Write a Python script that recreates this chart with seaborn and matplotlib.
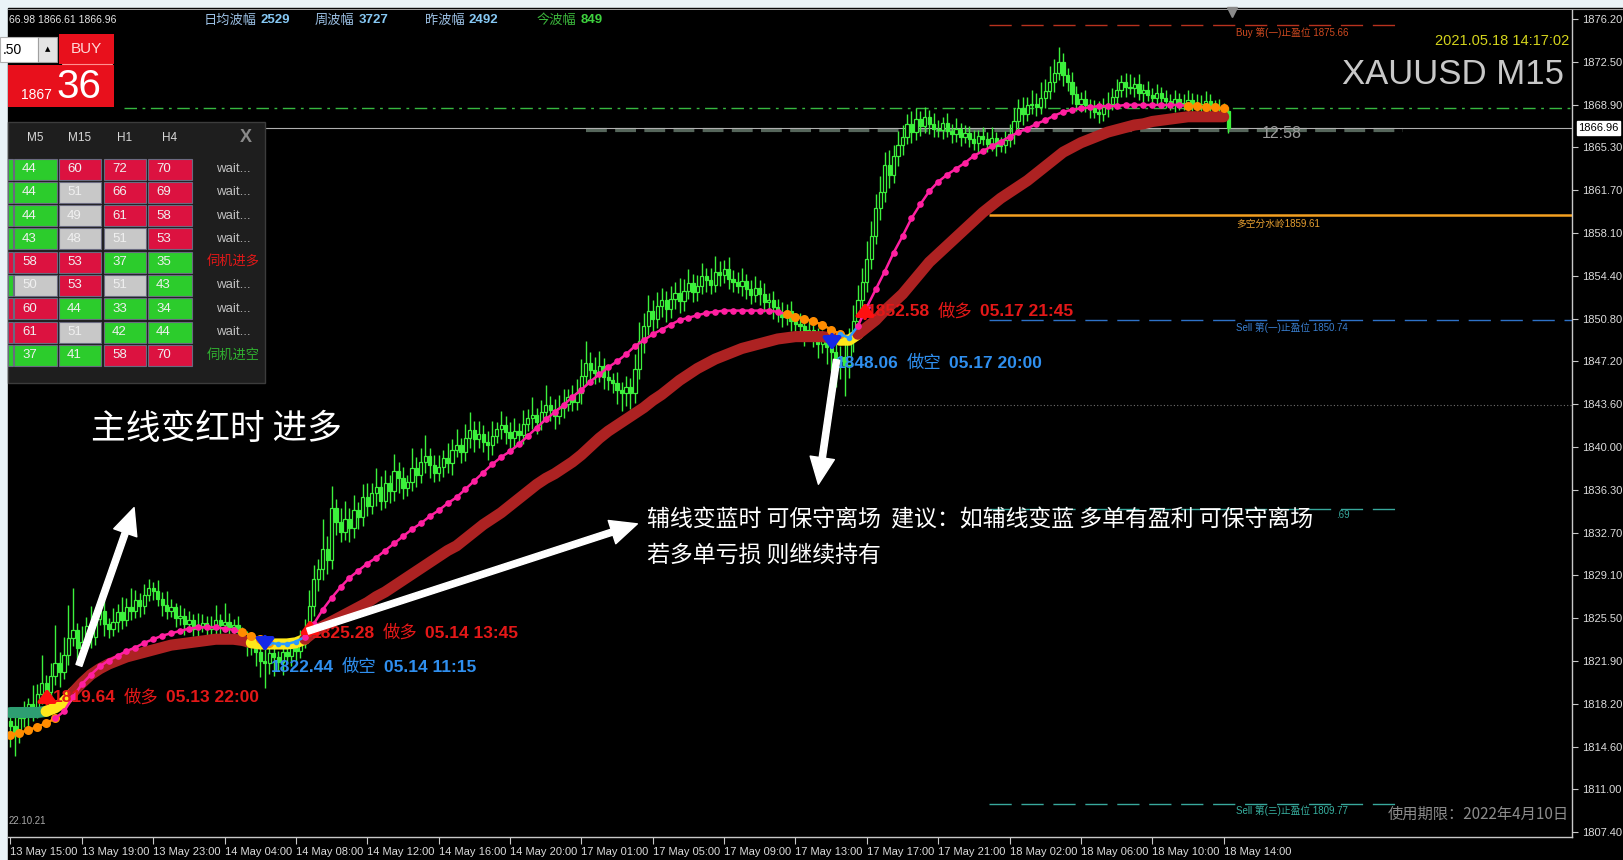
import numpy as np
import pandas as pd
import seaborn as sns
import matplotlib.pyplot as plt
from matplotlib.patches import Rectangle
from matplotlib.transforms import blended_transform_factory

# ---------------- values ----------------
time_labels = ["13 May 15:00", "13 May 19:00", "13 May 23:00", "14 May 04:00",
               "14 May 08:00", "14 May 12:00", "14 May 16:00", "14 May 20:00",
               "17 May 01:00", "17 May 05:00", "17 May 09:00", "17 May 13:00",
               "17 May 17:00", "17 May 21:00", "18 May 02:00", "18 May 06:00",
               "18 May 10:00", "18 May 14:00"]
price_ticks = [1876.20, 1872.50, 1868.90, 1865.30, 1861.70, 1858.10, 1854.40,
               1850.80, 1847.20, 1843.60, 1840.00, 1836.30, 1832.70, 1829.10,
               1825.50, 1821.90, 1818.20, 1814.60, 1811.00, 1807.40]
bid_price = 1866.96

# M15 candles (one row = 16 bars = one time label step)
first_open = 1816.8
closes = [
    1816.4, 1815.8, 1817.0, 1817.3, 1818.2, 1817.6, 1819.1, 1820.0, 1819.2, 1820.6, 1821.7, 1820.9, 1822.4, 1823.8, 1824.5, 1823.0,
    1823.5, 1824.8, 1823.9, 1825.4, 1826.1, 1825.0, 1824.6, 1825.2, 1826.0, 1825.3, 1826.4, 1826.1, 1827.0, 1826.5, 1827.4, 1828.0,
    1827.8, 1827.1, 1826.6, 1826.1, 1826.4, 1825.5, 1825.7, 1825.0, 1825.3, 1824.6, 1824.8, 1825.1, 1824.6, 1824.8, 1825.3, 1824.9,
    1825.2, 1824.7, 1824.9, 1824.3, 1823.8, 1823.1, 1823.4, 1822.6, 1821.9, 1821.7, 1822.5, 1822.2, 1821.8, 1822.6, 1822.3, 1823.0,
    1822.7, 1823.9, 1824.4, 1826.5, 1828.8, 1829.6, 1831.3, 1830.4, 1834.8, 1833.6, 1832.8, 1833.9, 1833.1, 1834.6, 1834.0, 1835.7,
    1835.0, 1836.1, 1836.6, 1835.4, 1836.9, 1836.2, 1837.9, 1837.3, 1836.5, 1837.0, 1838.2, 1837.6, 1838.7, 1839.2, 1838.4, 1837.8,
    1838.3, 1839.0, 1838.6, 1839.7, 1840.1, 1839.5, 1840.7, 1841.4, 1840.6, 1841.1, 1840.4, 1840.1, 1840.9, 1841.5, 1841.8, 1841.2,
    1840.7, 1841.3, 1841.0, 1841.9, 1842.4, 1842.7, 1842.1, 1842.9, 1843.5, 1843.1, 1842.6, 1843.3, 1843.6, 1844.2, 1843.8, 1844.5,
    1846.0, 1847.1, 1846.5, 1846.2, 1846.8, 1845.9, 1845.6, 1845.4, 1844.8, 1844.5, 1845.0, 1844.5, 1846.6, 1848.9, 1850.2, 1851.5,
    1850.8, 1851.9, 1852.4, 1851.6, 1852.5, 1853.0, 1852.3, 1853.2, 1853.8, 1853.1, 1853.6, 1854.4, 1854.1, 1853.7, 1854.8, 1854.5,
    1855.0, 1854.2, 1853.9, 1853.6, 1854.0, 1853.3, 1852.8, 1853.4, 1852.9, 1852.2, 1852.4, 1851.8, 1851.3, 1851.0, 1851.5, 1850.6,
    1850.4, 1850.2, 1849.6, 1849.9, 1849.3, 1848.7, 1849.0, 1848.4, 1848.0, 1847.2, 1847.6, 1846.9, 1848.9, 1850.6, 1852.4, 1853.9,
    1855.9, 1857.8, 1860.2, 1861.5, 1863.8, 1863.0, 1864.6, 1865.5, 1866.2, 1867.3, 1866.6, 1867.7, 1867.1, 1867.9, 1867.3, 1866.9,
    1866.8, 1867.4, 1866.7, 1866.4, 1866.9, 1866.2, 1866.5, 1866.0, 1865.7, 1866.3, 1866.0, 1865.6, 1866.1, 1865.4, 1865.5, 1865.9,
    1866.4, 1867.5, 1868.6, 1868.1, 1868.9, 1869.0, 1868.7, 1869.5, 1870.1, 1870.8, 1871.6, 1872.5, 1871.4, 1870.8, 1869.8, 1869.0,
    1869.4, 1868.9, 1868.6, 1868.3, 1868.1, 1868.7, 1869.0, 1869.6, 1870.2, 1870.8, 1870.4, 1870.3, 1870.7, 1869.9, 1870.2, 1869.7,
    1869.5, 1869.9, 1869.5, 1869.2, 1869.0, 1869.4, 1869.1, 1869.0, 1869.3, 1869.0, 1868.8, 1869.0, 1869.2, 1868.8, 1868.6, 1868.7,
    1868.4, 1866.96]
upper_wick = [
    0.6, 0.9, 0.4, 1.2, 0.5, 1.6, 0.8, 2.4, 0.7, 1.1, 3.2, 0.9, 1.5, 2.8, 3.5, 0.6,
    1.3, 0.8, 1.7, 0.6, 1.4, 0.9, 0.5, 1.1, 0.7, 1.3, 0.8, 1.6, 0.9, 0.6, 1.0, 0.8,
    0.5, 0.9, 0.6, 1.2, 0.7, 0.4, 0.9, 0.6, 0.8, 0.5, 1.1, 0.7, 0.6, 0.9, 1.3, 0.5,
    1.6, 0.7, 0.5, 0.8, 0.4, 0.6, 0.9, 0.5, 0.7, 1.1, 0.6, 0.8, 0.5, 0.9, 0.6, 0.7,
    0.8, 0.6, 1.0, 1.4, 1.2, 0.9, 2.6, 1.1, 1.9, 0.8, 1.2, 1.5, 0.9, 1.3, 0.7, 1.1,
    1.2, 0.8, 1.6, 0.9, 1.1, 0.7, 1.5, 0.8, 1.0, 0.6, 1.7, 0.9, 1.2, 1.8, 0.7, 0.9,
    1.0, 0.7, 1.3, 0.9, 1.4, 0.6, 1.2, 1.5, 0.8, 1.1, 0.7, 0.9, 1.3, 0.6, 1.2, 0.8,
    0.9, 1.1, 0.7, 1.2, 0.8, 1.5, 0.6, 1.0, 1.7, 0.8, 0.9, 1.1, 1.3, 0.7, 1.0, 1.2,
    1.4, 1.8, 0.9, 1.1, 1.3, 0.7, 0.8, 0.6, 0.9, 0.7, 1.0, 0.8, 1.2, 1.6, 1.1, 1.3,
    0.9, 1.2, 1.0, 0.8, 1.1, 0.9, 1.3, 1.0, 1.2, 0.8, 0.9, 1.1, 0.7, 1.0, 1.3, 0.9,
    0.8, 1.0, 0.7, 0.9, 1.1, 0.6, 0.8, 1.0, 0.7, 0.9, 0.6, 0.8, 0.7, 0.9, 0.6, 0.8,
    0.7, 0.9, 0.6, 0.8, 1.0, 0.7, 0.9, 0.6, 0.8, 0.7, 0.9, 1.2, 1.1, 1.4, 1.3, 1.2,
    1.5, 1.3, 1.2, 1.4, 1.1, 1.3, 0.9, 1.2, 1.0, 0.8, 1.1, 0.9, 0.7, 0.8, 0.6, 0.9,
    0.7, 0.5, 0.8, 0.6, 0.9, 0.5, 0.7, 0.6, 0.8, 0.5, 0.7, 0.6, 0.9, 0.5, 0.7, 0.8,
    0.9, 1.1, 0.8, 1.0, 0.7, 1.2, 0.9, 1.3, 1.0, 1.4, 1.2, 1.3, 0.8, 0.6, 0.9, 0.7,
    0.6, 0.8, 0.5, 0.7, 0.9, 0.8, 1.0, 0.7, 0.9, 0.6, 0.8, 1.1, 0.6, 0.8, 0.5, 0.7,
    0.6, 0.8, 0.5, 0.7, 0.6, 0.8, 0.5, 0.7, 0.9, 0.6, 0.8, 0.7, 0.9, 0.6, 0.5, 0.7,
    0.4, 0.3]
lower_wick = [
    1.8, 2.0, 0.9, 0.7, 1.1, 0.8, 0.6, 0.9, 1.0, 0.7, 0.8, 1.2, 0.6, 0.9, 0.7, 1.0,
    0.8, 0.6, 0.9, 0.7, 0.5, 1.0, 0.8, 0.6, 0.9, 0.7, 0.5, 0.8, 0.6, 0.9, 0.7, 0.5,
    0.8, 0.6, 0.9, 0.7, 0.5, 0.8, 0.6, 0.9, 0.7, 0.6, 0.8, 0.5, 0.9, 0.6, 0.7, 0.8,
    0.6, 0.8, 0.7, 0.9, 0.6, 0.8, 0.7, 1.2, 1.4, 2.1, 0.9, 1.6, 0.8, 1.1, 0.7, 0.9,
    0.8, 0.6, 0.9, 0.7, 0.8, 1.0, 0.9, 1.2, 0.8, 1.1, 0.9, 0.7, 1.2, 0.8, 1.0, 0.7,
    0.9, 0.7, 1.1, 0.8, 0.6, 1.0, 0.8, 1.2, 0.9, 0.7, 0.8, 1.0, 0.7, 0.9, 1.1, 0.8,
    0.7, 0.9, 0.8, 1.0, 0.6, 0.9, 0.7, 0.8, 1.1, 0.7, 0.9, 1.2, 0.8, 0.6, 0.9, 1.0,
    1.1, 0.7, 0.9, 0.8, 0.6, 0.9, 1.0, 0.7, 0.8, 0.9, 1.1, 0.7, 0.9, 0.6, 0.8, 0.7,
    0.9, 0.8, 1.1, 0.9, 0.7, 1.0, 0.8, 0.9, 1.2, 1.5, 1.1, 1.3, 0.8, 0.9, 1.0, 0.8,
    1.0, 0.8, 0.9, 1.1, 0.7, 0.9, 1.0, 0.8, 0.7, 0.9, 0.8, 0.7, 1.0, 0.8, 0.6, 0.9,
    0.7, 0.9, 0.8, 0.6, 0.9, 0.8, 0.7, 0.6, 0.9, 0.8, 0.7, 1.0, 0.8, 0.9, 0.7, 0.8,
    0.9, 0.8, 1.1, 0.7, 0.9, 1.2, 0.8, 1.4, 1.6, 2.2, 1.5, 2.6, 1.1, 0.9, 0.8, 0.7,
    0.8, 0.9, 0.7, 1.0, 0.8, 1.1, 0.7, 0.9, 0.8, 0.6, 0.9, 0.7, 0.8, 0.6, 0.9, 0.7,
    0.6, 0.8, 0.5, 0.7, 0.6, 0.8, 0.5, 0.7, 0.6, 0.8, 0.5, 0.7, 0.6, 0.8, 0.5, 0.7,
    0.6, 0.8, 0.7, 0.9, 0.6, 0.8, 0.7, 0.6, 0.9, 0.7, 0.8, 0.6, 0.9, 0.7, 0.8, 0.6,
    0.7, 0.6, 0.8, 0.5, 0.7, 0.6, 0.8, 0.5, 0.7, 0.6, 0.8, 0.5, 0.7, 0.6, 0.8, 0.5,
    0.6, 0.5, 0.7, 0.6, 0.5, 0.7, 0.6, 0.5, 0.7, 0.6, 0.5, 0.7, 0.6, 0.5, 0.6, 0.7,
    0.5, 0.4]

# indicator lines, one value every 2 bars
aux_line = [
    1815.6, 1815.8, 1816.0, 1816.3, 1816.6, 1817.0, 1817.6, 1818.8,
    1819.9, 1820.7, 1821.4, 1821.9, 1822.3, 1822.7, 1823.0, 1823.4,
    1823.7, 1824.0, 1824.2, 1824.4, 1824.6, 1824.7, 1824.7, 1824.7,
    1824.6, 1824.5, 1824.3, 1824.0, 1823.7, 1823.4, 1823.3, 1823.3,
    1823.5, 1823.9, 1825.0, 1826.2, 1827.2, 1828.1, 1828.9, 1829.5,
    1830.1, 1830.6, 1831.2, 1831.8, 1832.4, 1833.0, 1833.5, 1834.1,
    1834.6, 1835.2, 1835.7, 1836.4, 1837.1, 1837.8, 1838.5, 1839.1,
    1839.6, 1840.2, 1840.9, 1841.6, 1842.3, 1842.9, 1843.5, 1844.2,
    1844.8, 1845.5, 1846.1, 1846.7, 1847.2, 1847.8, 1848.5, 1849.0,
    1849.5, 1849.9, 1850.3, 1850.7, 1850.9, 1851.1, 1851.3, 1851.4,
    1851.5, 1851.5, 1851.5, 1851.5, 1851.5, 1851.5, 1851.4, 1851.2,
    1851.0, 1850.8, 1850.6, 1850.3, 1849.9, 1849.5, 1849.2, 1850.2,
    1851.8, 1853.3, 1854.8, 1856.4, 1857.8, 1859.3, 1860.5, 1861.6,
    1862.4, 1863.0, 1863.5, 1864.0, 1864.6, 1865.0, 1865.4, 1865.8,
    1866.2, 1866.6, 1866.9, 1867.3, 1867.6, 1868.0, 1868.3, 1868.5,
    1868.6, 1868.7, 1868.8, 1868.8, 1868.8, 1868.9, 1868.9, 1868.9,
    1868.9, 1868.9, 1868.9, 1868.9, 1868.8, 1868.8, 1868.7, 1868.7,
    1868.6]
main_line = [
    1817.5, 1817.5, 1817.5, 1817.5, 1817.6, 1817.9, 1818.4, 1819.2,
    1820.0, 1820.7, 1821.2, 1821.6, 1821.9, 1822.2, 1822.4, 1822.6,
    1822.8, 1823.0, 1823.2, 1823.3, 1823.4, 1823.5, 1823.6, 1823.7,
    1823.7, 1823.7, 1823.6, 1823.4, 1823.3, 1823.3, 1823.3, 1823.3,
    1823.4, 1823.7, 1824.3, 1824.8, 1825.2, 1825.6, 1826.0, 1826.4,
    1826.8, 1827.3, 1827.7, 1828.2, 1828.7, 1829.2, 1829.7, 1830.2,
    1830.7, 1831.2, 1831.6, 1832.2, 1832.8, 1833.4, 1833.9, 1834.4,
    1835.0, 1835.6, 1836.2, 1836.8, 1837.3, 1837.7, 1838.2, 1838.7,
    1839.3, 1840.0, 1840.7, 1841.3, 1841.8, 1842.3, 1842.8, 1843.3,
    1843.9, 1844.4, 1845.0, 1845.6, 1846.1, 1846.6, 1847.0, 1847.4,
    1847.7, 1848.0, 1848.3, 1848.5, 1848.7, 1848.9, 1849.1, 1849.2,
    1849.3, 1849.3, 1849.3, 1849.3, 1849.2, 1849.0, 1849.0, 1849.5,
    1850.1, 1850.7, 1851.5, 1852.2, 1852.9, 1853.8, 1854.7, 1855.6,
    1856.3, 1857.0, 1857.7, 1858.4, 1859.1, 1859.8, 1860.4, 1861.0,
    1861.5, 1862.0, 1862.5, 1863.1, 1863.7, 1864.3, 1864.9, 1865.3,
    1865.7, 1866.0, 1866.3, 1866.6, 1866.8, 1867.0, 1867.2, 1867.3,
    1867.5, 1867.6, 1867.7, 1867.8, 1867.9, 1867.9, 1867.9, 1867.9,
    1867.9]
# colour state of each line, as (first bar, last bar, state)
aux_states = [(0, 10, "wait"), (10, 52, "up"), (52, 58, "wait"), (58, 66, "down"),
              (66, 174, "up"), (174, 186, "wait"), (186, 190, "down"),
              (190, 264, "up"), (264, 272, "wait")]
main_states = [(0, 8, "down"), (8, 14, "flat"), (14, 54, "up"), (54, 66, "flat"),
               (66, 186, "up"), (186, 190, "flat"), (190, 272, "up")]

# horizontal levels
buy_tp1 = 1875.66
pivot_level = 1859.61
sell_tp1 = 1850.74
sell_tp2 = 1834.69
sell_tp3 = 1809.77
dashdot_level = 1868.66
dotted_level = 1843.50
band_level = 1866.80

# signals: price, word, time, side
sig_price = ["1819.64", "1822.44", "1825.28", "1852.58", "1848.06"]
sig_word = ["做多", "做空", "做多", "做多", "做空"]
sig_time = ["05.13 22:00", "05.14 11:15", "05.14 13:45", "05.17 21:45", "05.17 20:00"]
sig_side = ["buy", "sell", "buy", "buy", "sell"]

# strength table
tf_cols = ["M5", "M15", "H1", "H4"]
m5_vals = [44, 44, 44, 43, 58, 50, 60, 61, 37]
m15_vals = [60, 51, 49, 48, 53, 53, 44, 51, 41]
h1_vals = [72, 66, 61, 51, 37, 51, 33, 42, 58]
h4_vals = [70, 69, 58, 53, 35, 43, 34, 44, 70]
edge_cells = ["g", "g", "g", "g", "r", "g", "r", "r", "g"]
status_txt = ["wait...", "wait...", "wait...", "wait...", "伺机进多",
              "wait...", "wait...", "wait...", "伺机进空"]

range_names = ["日均波幅", "周波幅", "昨波幅", "今波幅"]
range_vals = [2529, 3727, 2492, 849]

# ---------------- style ----------------
sns.set_theme(style="dark", rc={"axes.facecolor": "black", "figure.facecolor": "#eaf3f7"})
plt.rcParams["font.family"] = ["Liberation Sans", "Noto Sans CJK SC", "DejaVu Sans"]
CJK = ["Noto Sans CJK SC", "DejaVu Sans"]

CANDLE = "#3cf03c"
AUX_COL = {"up": "#ff1fa0", "wait": "#ff8c00", "down": "#2a9bff"}
MAIN_COL = {"up": "#ad2222", "flat": "#ffe81a", "down": "#2e9e72"}
BUY_RED = "#e8101c"
TXT_RED = "#e41818"
TXT_BLUE = "#2f8fef"

W, H = 1624, 860
fig = plt.figure(figsize=(W / 100, H / 100), dpi=100)

# black terminal area behind everything
bg = fig.add_axes([0, 0, 1, 1], zorder=0)
bg.set_xlim(0, W)
bg.set_ylim(H, 0)
bg.axis("off")
bg.add_patch(Rectangle((8, 8), W - 8, H - 8, color="black"))
bg.plot([8, W], [9, 9], color="#9a9a9a", lw=0.8)

# main chart axes (pixel box 8..1572 x 10..837)
ax = fig.add_axes([8 / W, (H - 837) / H, (1572 - 8) / W, (837 - 10) / H], zorder=1)
ax.set_facecolor("black")
ax.set_xlim(-0.56, 350.1)
ax.set_ylim(1806.97, 1876.93)
for s in ["top", "left"]:
    ax.spines[s].set_visible(False)
for s in ["right", "bottom"]:
    ax.spines[s].set_color("#c8c8c8")
    ax.spines[s].set_linewidth(1)
ax.grid(False)

ax.yaxis.tick_right()
ax.set_yticks(price_ticks)
ax.set_yticklabels([f"{v:.2f}" for v in price_ticks])
ax.tick_params(axis="y", length=4, width=0.8, color="#c8c8c8", labelsize=8,
               labelcolor="#dcdcdc", pad=3, right=True, left=False)
bar_tick = np.arange(len(time_labels)) * 16
ax.set_xticks(bar_tick)
ax.set_xticklabels(time_labels, ha="left")
ax.tick_params(axis="x", length=5, width=0.8, color="#c8c8c8", labelsize=8,
               labelcolor="#dcdcdc", pad=2, bottom=True)

# horizontal levels
x_lvl0, x_lvl1, x_end = 219.4, 312.2, 350.1
ax.hlines(buy_tp1, x_lvl0, x_lvl1, color="#b8321e", lw=1, linestyles=(0, (16, 7)), zorder=1)
ax.hlines(dashdot_level, 25.5, x_end, color="#36b840", lw=1, linestyles=(0, (9, 4, 2, 4)), zorder=1)
ax.hlines(band_level, 129, x_lvl1, color="#55655a", lw=3, linestyles=(0, (5, 2)), zorder=1)
ax.hlines(bid_price, -1, x_end, color="#b0b0b0", lw=0.8, zorder=1)
ax.hlines(pivot_level, x_lvl0, x_end, color="#f4a020", lw=1.8, zorder=1)
ax.hlines(sell_tp1, x_lvl0, x_end, color="#2e72c8", lw=1, linestyles=(0, (16, 7)), zorder=1)
ax.hlines(dotted_level, 186, x_end, color="#707070", lw=0.8, linestyles=(0, (1, 2)), zorder=1)
ax.hlines(sell_tp2, x_lvl0, x_lvl1, color="#38a89c", lw=1, linestyles=(0, (16, 7)), zorder=1)
ax.hlines(sell_tp3, x_lvl0, x_lvl1, color="#38a89c", lw=1, linestyles=(0, (16, 7)), zorder=1)

# candles
c = np.array(closes)
o = np.r_[first_open, c[:-1]]
hi = np.maximum(o, c) + np.array(upper_wick)
lo = np.minimum(o, c) - np.array(lower_wick)
bars = np.arange(len(c))
bull = c >= o
ax.vlines(bars, lo, hi, color=CANDLE, lw=1.0, zorder=3)
ax.bar(bars, np.maximum(np.abs(c - o), 0.08), bottom=np.minimum(o, c), width=0.72,
       color=np.where(bull, "black", CANDLE), edgecolor=CANDLE, linewidth=0.9, zorder=3)

# indicator lines
ma_bar = np.arange(len(main_line)) * 2
main_arr = np.array(main_line)
aux_arr = np.array(aux_line)
for b0, b1, st in main_states:
    m = (ma_bar >= b0) & (ma_bar <= b1)
    sns.lineplot(x=ma_bar[m], y=main_arr[m], ax=ax, color=MAIN_COL[st], lw=8,
                 solid_capstyle="round", estimator=None, sort=False, legend=False, zorder=6)
for b0, b1, st in aux_states:
    m = (ma_bar >= b0) & (ma_bar <= b1)
    ms = {"up": 4.8, "wait": 6.5, "down": 4}[st]
    sns.lineplot(x=ma_bar[m], y=aux_arr[m], ax=ax, color=AUX_COL[st], lw=1.8,
                 marker="o", markersize=ms, markeredgewidth=0,
                 estimator=None, sort=False, legend=False, zorder=7)
ax.set_xlabel("")
ax.set_ylabel("")

# current price box on the price scale
tr = blended_transform_factory(ax.transAxes, ax.transData)
ax.text(1.004, bid_price, f"{bid_price:.2f}", transform=tr, fontsize=8, color="black",
        va="center", ha="left", clip_on=False,
        bbox=dict(boxstyle="square,pad=0.15", fc="white", ec="white"))

# ---------------- overlay (pixel coordinates) ----------------
ov = fig.add_axes([0, 0, 1, 1], zorder=5)
ov.set_xlim(0, W)
ov.set_ylim(H, 0)
ov.axis("off")
ov.patch.set_alpha(0)

# signal texts and arrows
sig_xy = [(53, 698), (271, 667), (312, 633), (867, 312), (836, 363)]
sig_arrow = [(47, 706, 686), (265, 634, 654), (310, 638, 617), (865, 321, 300), (832, 332, 353)]
for k in range(len(sig_price)):
    col = TXT_RED if sig_side[k] == "buy" else TXT_BLUE
    x0, y0 = sig_xy[k]
    ov.text(x0, y0, sig_price[k], color=col, fontsize=12.5, fontweight="bold", va="center", zorder=1)
    ov.text(x0 + 71, y0, sig_word[k], color=col, fontsize=12.5, family=CJK, va="center", zorder=1)
    ov.text(x0 + 113, y0, sig_time[k], color=col, fontsize=12.5, fontweight="bold", va="center", zorder=1)
    ax_, y_from, y_to = sig_arrow[k]
    acol = "#ff1010" if sig_side[k] == "buy" else "#1428e6"
    ov.annotate("", xy=(ax_, y_to), xytext=(ax_, y_from),
                arrowprops=dict(arrowstyle="-|>,head_length=0.6,head_width=0.45", color=acol, lw=2.8),
                zorder=8)

# white callout arrows
for (x1, y1), (x2, y2) in [((78, 668), (135, 505)), ((305, 632), (640, 523)), ((837, 357), (818, 487))]:
    ov.annotate("", xy=(x2, y2), xytext=(x1, y1),
                arrowprops=dict(arrowstyle="simple,head_length=1.2,head_width=1.1,tail_width=0.28",
                                fc="white", ec="white", mutation_scale=16), zorder=9)

ov.text(91, 430, "主线变红时 进多", color="white", fontsize=25, family=CJK, va="center", zorder=9)
ov.text(647, 520, "辅线变蓝时 可保守离场  建议：如辅线变蓝 多单有盈利 可保守离场",
        color="white", fontsize=16.5, family=CJK, va="center", zorder=9)
ov.text(647, 555, "若多单亏损 则继续持有", color="white", fontsize=16.5, family=CJK, va="center", zorder=9)

# level labels
ov.text(1236, 33, "Buy 第(一)止盈位 1875.66", color="#d04a20", fontsize=7, va="center")
ov.text(1236, 224, "多空分水岭1859.61", color="#e8a030", fontsize=7, va="center")
ov.text(1236, 328, "Sell 第(一)止盈位 1850.74", color="#3a7fd0", fontsize=7, va="center")
ov.text(1336, 515, ".69", color="#38a89c", fontsize=7, va="center")
ov.text(1236, 811, "Sell 第(三)止盈位 1809.77", color="#38b0a0", fontsize=7, va="center")
ov.text(1282, 134, "12:58", color="#9a9a9a", fontsize=11.5, ha="center", va="center")
ov.plot([1232], [12], marker="v", color="#8a8a8a", markersize=7)

# top right / bottom texts
ov.text(1569, 41, "2021.05.18 14:17:02", color="#d4d41c", fontsize=10.5, ha="right", va="center")
ov.text(1564, 75, "XAUUSD M15", color="#c8c8c8", fontsize=25, ha="right", va="center")
ov.text(1569, 814, "使用期限：2022年4月10日", color="#8c8c8c", fontsize=11, family=CJK,
        ha="right", va="center")
ov.text(9, 821, "22.10.21", color="#a8a8a8", fontsize=7, va="center")

# header line
ov.text(9, 20, "66.98 1866.61 1866.96", color="#e6e6e6", fontsize=7.5, va="center")
range_x = [204, 315, 425, 537]
for k, name in enumerate(range_names):
    last = k == len(range_names) - 1
    ov.text(range_x[k], 20, name, color="#3cb83c" if last else "#9cc0e4", fontsize=9.5,
            family=CJK, va="center")
    ov.text(range_x[k] + 13.5 * len(name) + 3, 20, str(range_vals[k]),
            color="#3ed23e" if last else "#86c8f4", fontsize=9.5, fontweight="bold", va="center")

# one-click trading box
ov.add_patch(Rectangle((0, 37), 38, 25, fc="white", ec="#b0b0b0", lw=0.8))
ov.add_patch(Rectangle((38, 37), 19, 25, fc="#e4e4e4", ec="#a0a0a0", lw=0.8))
ov.text(3, 50, ".50", color="black", fontsize=10, va="center")
ov.text(47.5, 49, "▲", color="black", fontsize=5, ha="center", va="center", family=["DejaVu Sans"])
ov.add_patch(Rectangle((59, 34), 55, 30, fc=BUY_RED, ec="none"))
ov.text(86, 49, "BUY", color="#ffd8d8", fontsize=11, ha="center", va="center")
ov.plot([62, 112], [64, 64], color="#ff9090", lw=0.8)
ov.add_patch(Rectangle((8, 65), 106, 42, fc=BUY_RED, ec="none"))
ov.text(21, 95, "1867", color="white", fontsize=10, va="center")
ov.text(56, 87, "36", color="white", fontsize=29, va="center")

# strength table panel
ov.add_patch(Rectangle((8, 122), 257, 261, fc="#1e1e1e", ec="#3c3c3c", lw=1))
col_x = [(14, 57), (59, 101), (104, 146), (148, 192)]
for k, name in enumerate(tf_cols):
    ov.text((col_x[k][0] + col_x[k][1]) / 2, 138, name, color="#d8d8d8", fontsize=8.5,
            ha="center", va="center")
ov.text(246, 138, "X", color="#8a8a8a", fontsize=13, fontweight="bold", ha="center", va="center")


def cell_color(v):
    if v > 52:
        return "#dc1240"
    if v >= 48:
        return "#c8c8c8"
    return "#2ccc2c"


table = pd.DataFrame({"M5": m5_vals, "M15": m15_vals, "H1": h1_vals, "H4": h4_vals})
for r in range(len(table)):
    yc = 169 + r * 23.3
    edge = "#2ccc2c" if edge_cells[r] == "g" else "#dc1240"
    ov.add_patch(Rectangle((8, yc - 10.5), 5, 21, fc=edge, ec="#6a6a80", lw=0.8))
    for k, name in enumerate(tf_cols):
        v = table.loc[r, name]
        x0, x1 = col_x[k]
        ov.add_patch(Rectangle((x0, yc - 10.5), x1 - x0, 21, fc=cell_color(v), ec="#6a6a80", lw=0.8))
        ov.text(x0 + 8, yc, str(v), color="#f0f0f0", fontsize=9.5, va="center")
    st = status_txt[r]
    scol = "#c0c0c0"
    if st == "伺机进多":
        scol = "#e01818"
    elif st == "伺机进空":
        scol = "#30b030"
    ov.text(233, yc, st, color=scol, fontsize=9.5, family=CJK if st.startswith("伺") else None,
            ha="center", va="center")

fig.savefig("out.png", dpi=100, facecolor=fig.get_facecolor())
